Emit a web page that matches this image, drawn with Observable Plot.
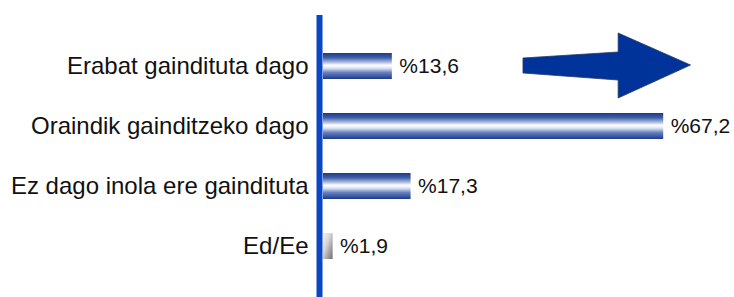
<!DOCTYPE html>
<html>
<head>
<meta charset="utf-8">
<script src="https://cdn.jsdelivr.net/npm/d3@7"></script>
<script src="https://cdn.jsdelivr.net/npm/@observablehq/plot@0.6"></script>
<style>
  html, body { margin: 0; padding: 0; background: #fff; }
  svg { display: block; }
</style>
</head>
<body>
<div id="chart"></div>
<script>
const categories = ["Erabat gaindituta dago", "Oraindik gainditzeko dago", "Ez dago inola ere gaindituta", "Ed/Ee"];
const values = [13.6, 67.2, 17.3, 1.9];
const valueLabels = ["%13,6", "%67,2", "%17,3", "%1,9"];
const grayCategory = "Ed/Ee";

const data = categories.map((c, i) => ({cat: c, value: values[i], label: valueLabels[i]}));

// arrow outline: x in data units, y in pixels from top
const arrowX = [39.5, 58.3, 58.3, 72.6, 58.3, 58.3, 39.5];
const arrowY = [58, 52, 33, 65, 98, 80, 73];

const defs = () => {
  const s = d3.create("svg:defs");
  const bg = s.append("linearGradient").attr("id", "blueGrad").attr("x1", 0).attr("y1", 0).attr("x2", 0).attr("y2", 1);
  [["0%", "#1c3a8c"], ["18%", "#3f5ea8"], ["35%", "#a9b9dd"], ["47%", "#ffffff"], ["58%", "#dfe6f3"], ["75%", "#6782bf"], ["100%", "#1c3a8c"]]
    .forEach(([o, c]) => bg.append("stop").attr("offset", o).attr("stop-color", c));
  const gg = s.append("linearGradient").attr("id", "grayGrad").attr("x1", 0).attr("y1", 0).attr("x2", 1).attr("y2", 1);
  [["0%", "#f4f4f4"], ["40%", "#d6d6d6"], ["100%", "#6e6e6e"]]
    .forEach(([o, c]) => gg.append("stop").attr("offset", o).attr("stop-color", c));
  return s.node();
};

const arrowMark = (index, scales) => {
  const pts = arrowX.map((x, i) => [scales.x(x), arrowY[i]]);
  const p = d3.create("svg:polygon")
    .attr("points", pts.map(d => d.join(",")).join(" "))
    .attr("fill", "#003399")
    .attr("stroke", "#2a3a66")
    .attr("stroke-width", 0.8);
  return p.node();
};

const chart = Plot.plot({
  width: 734,
  height: 297,
  marginLeft: 323,
  marginRight: 6,
  marginTop: 15,
  marginBottom: 0,
  style: {fontFamily: "Arial, 'Liberation Sans', sans-serif", fontSize: "21px", color: "#111", background: "#fff"},
  x: {domain: [0, 80], axis: null},
  y: {domain: categories, paddingInner: 0.567, paddingOuter: 0.633, label: null},
  marks: [
    defs,
    Plot.barX(data.filter(d => d.cat !== grayCategory), {x: "value", y: "cat", fill: "url(#blueGrad)"}),
    Plot.barX(data.filter(d => d.cat === grayCategory), {x: "value", y: "cat", fill: "url(#grayGrad)"}),
    Plot.text(data, {x: "value", y: "cat", text: "label", dx: 7, textAnchor: "start", fontSize: 21, fill: "#111"}),
    Plot.axisY({tickSize: 0, tickPadding: 15, fontSize: 24, label: null, fill: "#111"}),
    Plot.ruleX([0], {stroke: "#0b46c6", strokeWidth: 6, dx: -4}),
    arrowMark
  ]
});
document.getElementById("chart").append(chart);
</script>
</body>
</html>
